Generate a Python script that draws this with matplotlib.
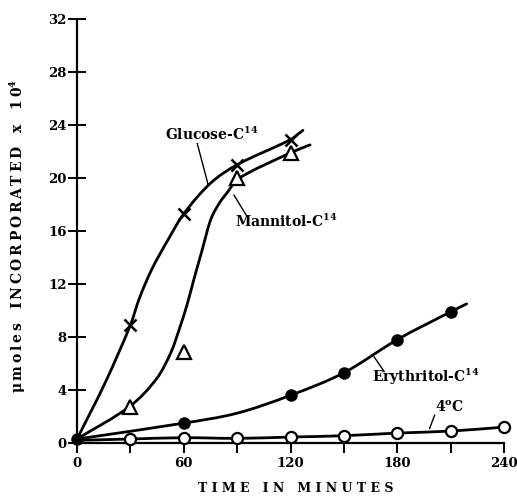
import numpy as np
import matplotlib
matplotlib.use("Agg")
import matplotlib.pyplot as plt
from matplotlib.path import Path
from matplotlib.patches import PathPatch

plt.rcParams['font.family'] = ['DejaVu Serif']
plt.rcParams['font.weight'] = 'bold'
plt.rcParams['mathtext.fontset'] = 'dejavuserif'

# measured points (minutes, umoles x 10^4)
glucose_t = [0, 30, 60, 90, 120]
glucose_y = [0.3, 8.9, 17.3, 21.0, 22.9]
mannitol_t = [30, 60, 90, 120]
mannitol_y = [2.75, 6.9, 20.0, 21.9]
erythritol_t = [0, 60, 120, 150, 180, 210]
erythritol_y = [0.3, 1.5, 3.6, 5.3, 7.8, 9.9]
cold_t = [30, 60, 90, 120, 150, 180, 210, 240]
cold_y = [0.3, 0.4, 0.35, 0.45, 0.55, 0.75, 0.9, 1.2]

# hand drawn curves
glucose_curve_t = [0, 16, 30, 35, 42, 51, 60, 75, 90, 120, 127]
glucose_curve_y = [0.3, 4.6, 8.9, 10.9, 13.1, 15.3, 17.3, 19.6, 21.0, 22.9, 23.6]
mannitol_curve_t = [0, 30, 45, 53, 58.5, 62, 66, 70, 75, 80, 85, 90, 120, 131]
mannitol_curve_y = [0.3, 2.8, 4.9, 6.9, 9.0, 10.5, 12.5, 14.4, 16.8, 18.1, 19.0, 19.9, 21.9, 22.5]
erythritol_curve_t = [0, 60, 90, 120, 150, 180, 210, 219]
erythritol_curve_y = [0.3, 1.5, 2.25, 3.6, 5.3, 7.8, 9.9, 10.5]
cold_curve_t = [0, 30, 60, 90, 120, 150, 180, 210, 240]
cold_curve_y = [0.2, 0.3, 0.4, 0.35, 0.45, 0.55, 0.75, 0.9, 1.2]


def smooth_path(xs, ys):
    # cubic hermite in x, slopes from neighbouring knots
    x = np.asarray(xs, float)
    y = np.asarray(ys, float)
    n = len(x)
    m = np.zeros(n)
    m[0] = (y[1] - y[0]) / (x[1] - x[0])
    m[-1] = (y[-1] - y[-2]) / (x[-1] - x[-2])
    for i in range(1, n - 1):
        m[i] = (y[i + 1] - y[i - 1]) / (x[i + 1] - x[i - 1])
    verts = [(x[0], y[0])]
    codes = [Path.MOVETO]
    for i in range(n - 1):
        h = x[i + 1] - x[i]
        verts += [(x[i] + h / 3, y[i] + m[i] * h / 3),
                  (x[i + 1] - h / 3, y[i + 1] - m[i + 1] * h / 3),
                  (x[i + 1], y[i + 1])]
        codes += [Path.CURVE4] * 3
    return Path(verts, codes)


fig = plt.figure(figsize=(5.17, 4.97), dpi=100)
ax = fig.add_axes([77 / 517, 1 - 443 / 497, 427 / 517, 424 / 497])

for ct, cy in [(glucose_curve_t, glucose_curve_y),
               (mannitol_curve_t, mannitol_curve_y),
               (erythritol_curve_t, erythritol_curve_y),
               (cold_curve_t, cold_curve_y)]:
    ax.add_patch(PathPatch(smooth_path(ct, cy), fill=False, lw=2.0,
                           edgecolor='black', capstyle='round', clip_on=False,
                           zorder=2))

ax.plot(glucose_t[1:], glucose_y[1:], 'x', color='black', ms=9, mew=1.8,
        zorder=3, clip_on=False)
ax.plot(mannitol_t, mannitol_y, '^', mfc='white', mec='black', ms=10, mew=1.6,
        zorder=3, clip_on=False)
ax.plot(erythritol_t, erythritol_y, 'o', color='black', ms=8, zorder=3,
        clip_on=False)
ax.plot(cold_t, cold_y, 'o', mfc='white', mec='black', ms=8, mew=1.6,
        zorder=3, clip_on=False)

# labels with leader lines
lab = dict(fontsize=10, fontweight='bold', color='black')
ax.text(49.5, 22.9, r'Glucose-C$^{\mathbf{14}}$', **lab)
ax.plot([67.6, 73.7], [22.6, 19.5], color='black', lw=1.0)
ax.text(89, 16.3, r'Mannitol-C$^{\mathbf{14}}$', **lab)
ax.plot([88.3, 95.1], [18.7, 17.2], color='black', lw=1.0)
ax.text(166, 4.63, r'Erythritol-C$^{\mathbf{14}}$', **lab)
ax.plot([167, 172.6], [6.5, 5.4], color='black', lw=1.0)
ax.text(201, 2.34, r'4$^{\mathbf{o}}$C', **lab)
ax.plot([201, 198.2], [2.1, 1.1], color='black', lw=1.0)

ax.set_xlim(0, 240)
ax.set_ylim(0, 32)
ax.spines['top'].set_visible(False)
ax.spines['right'].set_visible(False)
ax.spines['left'].set_linewidth(1.6)
ax.spines['bottom'].set_linewidth(1.6)

ax.set_xticks(range(0, 241, 30))
ax.set_xticklabels(['0', '', '60', '', '120', '', '180', '', '240'])
ax.set_yticks(range(0, 33, 4))
ax.tick_params(axis='x', direction='out', length=7, width=1.4, pad=3,
               labelsize=9.5)
ax.tick_params(axis='y', direction='inout', length=13, width=1.4, pad=1,
               labelsize=9.5)
for t in ax.get_xticklabels() + ax.get_yticklabels():
    t.set_fontweight('bold')

sp = '\u2009'
ylab = sp.join('\u03bcmoles') + '   ' + sp.join('INCORPORATED') + '   x   ' + sp.join('10') + r'$^{\mathbf{4}}$'
fig.text(18 / 517, 1 - 236 / 497, ylab, rotation=90, ha='center', va='center',
         fontsize=10, fontweight='bold')
xlab = '   '.join([' '.join('TIME'), ' '.join('IN'), ' '.join('MINUTES')])
fig.text(296 / 517, 1 - 489 / 497, xlab, ha='center', va='center',
         fontsize=9, fontweight='bold')

fig.savefig('out.png', dpi=100)
